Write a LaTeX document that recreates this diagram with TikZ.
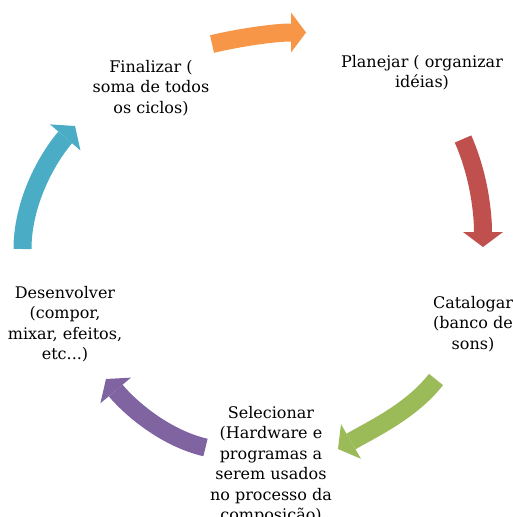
\documentclass[tikz,border=0pt]{standalone}
\usepackage{fontspec}
\setmainfont{DejaVu Serif}
\usetikzlibrary{arrows.meta}
\definecolor{accOrange}{HTML}{F79646}
\definecolor{accRed}{HTML}{C0504D}
\definecolor{accGreen}{HTML}{9BBB59}
\definecolor{accPurple}{HTML}{8064A2}
\definecolor{accTeal}{HTML}{4BACC6}
\begin{document}
\begin{tikzpicture}[x=1pt,y=-1pt,
  cyclearrow/.style={line width=18pt, line cap=butt,
    -{Triangle[length=15pt,width=40pt,line width=0pt]}},
  steptext/.style={align=center, inner sep=0pt, anchor=base,
    font=\fontsize{16}{20.5}\selectfont}
]
\useasboundingbox (0,0) rectangle (513,517);
\clip (0,0) rectangle (513,517);

% stage labels (anchored at the baseline of their last line)
\node[steptext] (plan) at (422,87.5) {Planejar ( organizar\\idéias)};
\node[steptext] (cat)  at (473,349) {Catalogar\\(banco de\\sons)};
\node[steptext] (sel)  at (271,520.5) {Selecionar\\(Hardware e\\programas a\\serem usados\\no processo da\\composição)};
\node[steptext] (des)  at (65,359.5) {Desenvolver\\(compor,\\mixar, efeitos,\\etc...)};
\node[steptext] (fin)  at (151,113) {Finalizar (\\soma de todos\\os ciclos)};

% curved arrows between the stages
\coordinate (oT) at (212,44);    \coordinate (oH) at (306,32.5);
\coordinate (rT) at (463,139);   \coordinate (rH) at (483,247);
\coordinate (gT) at (436,379.5); \coordinate (gH) at (338,449);
\coordinate (pT) at (205.5,447.5); \coordinate (pH) at (106,379);
\coordinate (tT) at (22.5,249);  \coordinate (tH) at (75,126);

\draw[cyclearrow, accOrange] (oT) .. controls (242.2,37) and (275,32.5) .. (oH);
\draw[cyclearrow, accRed]    (rT) .. controls (478,172.8) and (483,210) .. (rH);
\draw[cyclearrow, accGreen]  (gT) .. controls (411.4,411) and (372.6,429) .. (gH);
\draw[cyclearrow, accPurple] (pT) .. controls (166.5,438.5) and (131.7,409.6) .. (pH);
\draw[cyclearrow, accTeal]   (tT) .. controls (22.5,204) and (45.7,160.2) .. (tH);
\end{tikzpicture}
\end{document}
